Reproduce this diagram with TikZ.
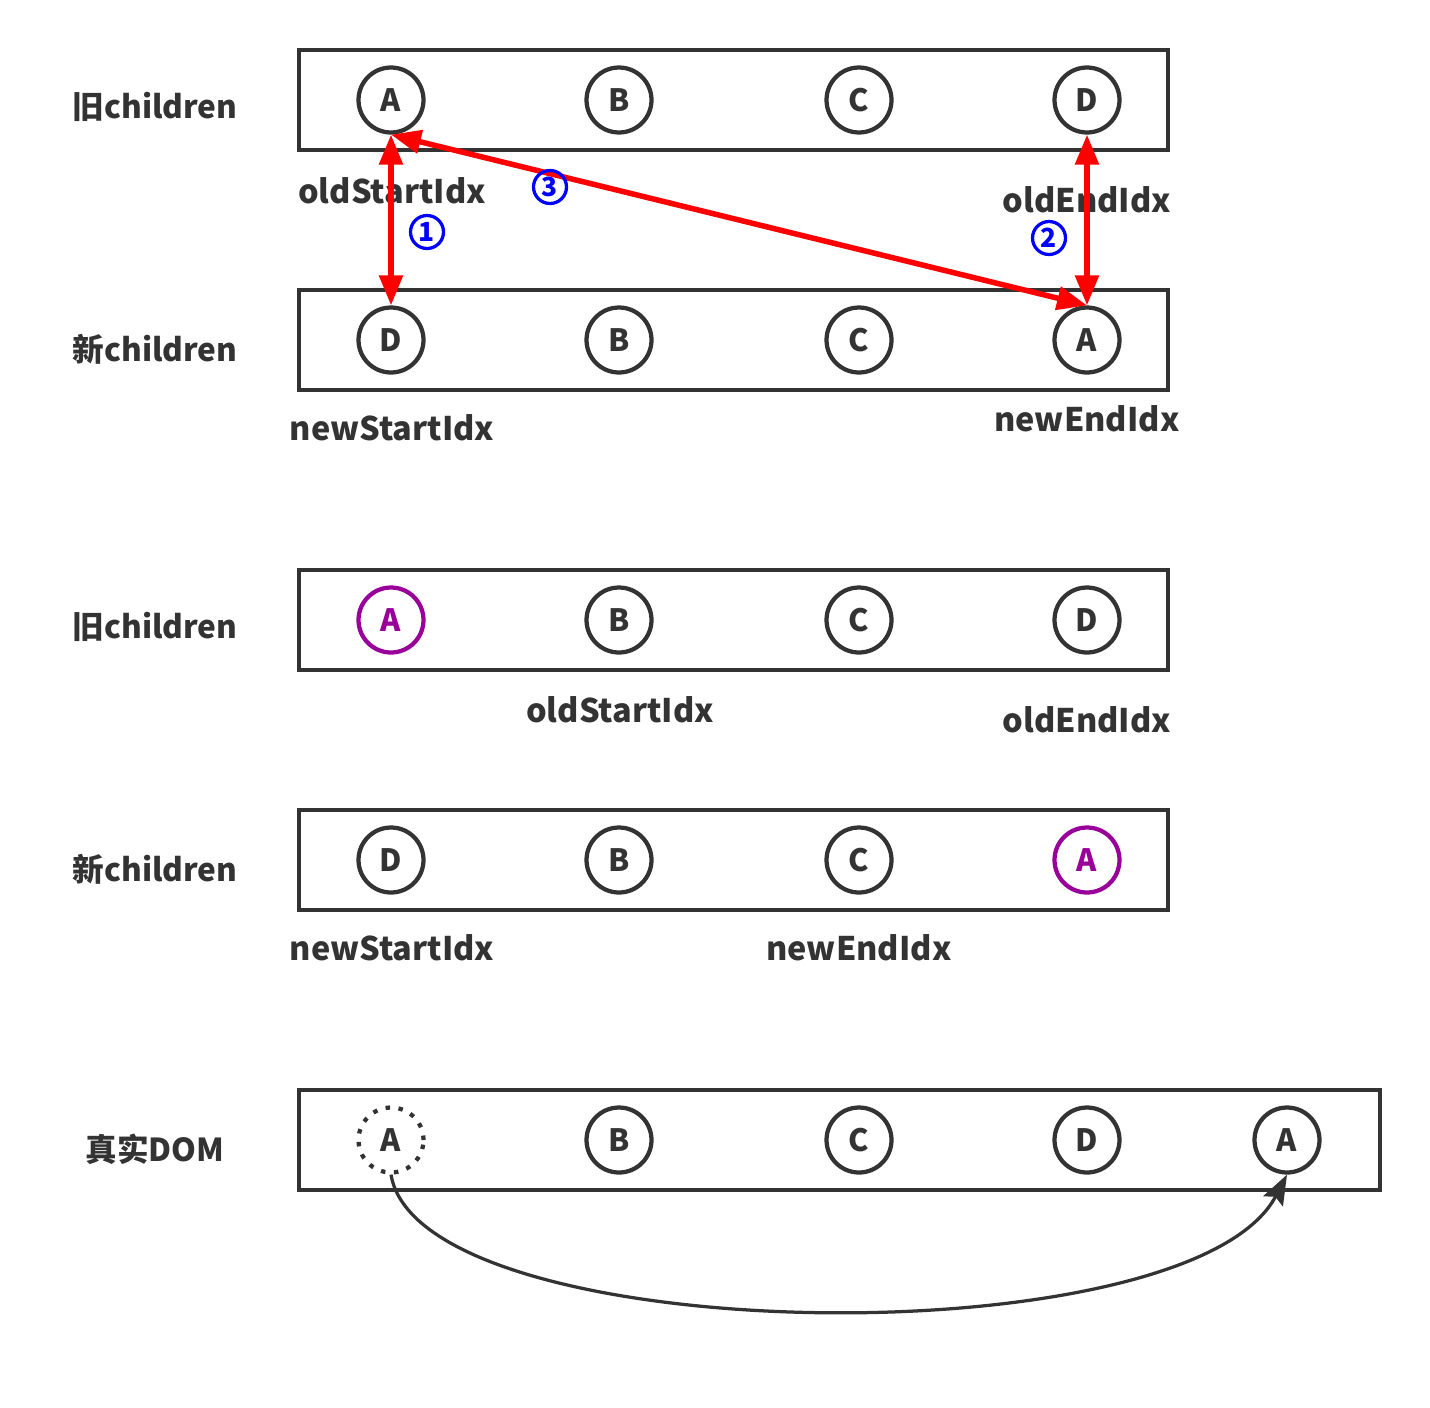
\documentclass[tikz,border=0pt]{standalone}
\usepackage{fontspec}
\setmainfont{Noto Sans CJK SC}
\usetikzlibrary{arrows.meta}
\definecolor{ink}{HTML}{333333}
\definecolor{mark}{HTML}{990099}
\begin{document}
\begin{tikzpicture}[
  x=0.02cm, y=-0.02cm,
  box/.style={rectangle, draw=ink, line width=0.085cm, minimum width=17.38cm, minimum height=2cm},
  item/.style={circle, draw=ink, line width=0.085cm, minimum size=1.3cm, inner sep=0pt, text=ink, font=\fontsize{17.5}{18}\selectfont\bfseries},
  moved/.style={item, draw=mark, text=mark},
  ghost/.style={item, line cap=butt, dash pattern=on 0.09cm off 0.17cm},
  rowname/.style={text=ink, font=\fontsize{18}{20}\selectfont\bfseries},
  idx/.style={text=ink, font=\fontsize{18.5}{20}\selectfont\bfseries},
  step num/.style={circle, draw=blue, line width=0.065cm, minimum size=0.66cm, inner sep=0pt, text=blue, font=\fontsize{15}{16}\selectfont\bfseries},
  cmp/.style={{Triangle[length=0.6cm,width=0.46cm]}-{Triangle[length=0.6cm,width=0.46cm]}, red, line width=0.11cm},
  move/.style={-{Stealth[length=0.6cm,width=0.44cm,inset=0.1cm]}, ink, line width=0.065cm}
]
\useasboundingbox (0,0) rectangle (1430,1407);

% Before: old and new children
\node[rowname] (oldname) at (155,107) {旧children};
\node[box] (oldbox) at (733.5,100) {};
\node[item] (oa) at (391,100) {A};
\node[item] (ob) at (619,100) {B};
\node[item] (oc) at (859,100) {C};
\node[item] (od) at (1087,100) {D};
\node[idx] (ostart) at (392,191) {oldStartIdx};
\node[idx] (oend) at (1087,200) {oldEndIdx};

\node[rowname] (newname) at (155,349) {新children};
\node[box] (newbox) at (733.5,340) {};
\node[item] (nd) at (391,340) {D};
\node[item] (nb) at (619,340) {B};
\node[item] (nc) at (859,340) {C};
\node[item] (na) at (1087,340) {A};
\node[idx] (nstart) at (392,428) {newStartIdx};
\node[idx] (nend) at (1087,419) {newEndIdx};

% Comparisons
\draw[cmp] (oa.south) -- (nd.north);
\draw[cmp] (od.south) -- (na.north);
\draw[cmp] (oa.south) -- (na.north);
\node[step num] (s1) at (427,232) {1};
\node[step num] (s2) at (1049,238) {2};
\node[step num] (s3) at (550,187) {3};

% After: old and new children
\node[rowname] (oldname2) at (155,627) {旧children};
\node[box] (oldbox2) at (733.5,620) {};
\node[moved] (oa2) at (391,620) {A};
\node[item] (ob2) at (619,620) {B};
\node[item] (oc2) at (859,620) {C};
\node[item] (od2) at (1087,620) {D};
\node[idx] (ostart2) at (620,710) {oldStartIdx};
\node[idx] (oend2) at (1087,720) {oldEndIdx};

\node[rowname] (newname2) at (155,869) {新children};
\node[box] (newbox2) at (733.5,860) {};
\node[item] (nd2) at (391,860) {D};
\node[item] (nb2) at (619,860) {B};
\node[item] (nc2) at (859,860) {C};
\node[moved] (na2) at (1087,860) {A};
\node[idx] (nstart2) at (392,948) {newStartIdx};
\node[idx] (nend2) at (859,948) {newEndIdx};

% Real DOM
\node[rowname] (domname) at (155,1149) {真实DOM};
\node[box, minimum width=21.62cm] (dombox) at (839.5,1140) {};
\node[ghost] (da) at (391,1140) {A};
\node[item] (db) at (619,1140) {B};
\node[item] (dc) at (859,1140) {C};
\node[item] (dd) at (1087,1140) {D};
\node[item] (dnew) at (1287,1140) {A};

\draw[move] (da.south) .. controls (420,1350) and (1190,1360) .. (dnew.south);

\end{tikzpicture}
\end{document}
